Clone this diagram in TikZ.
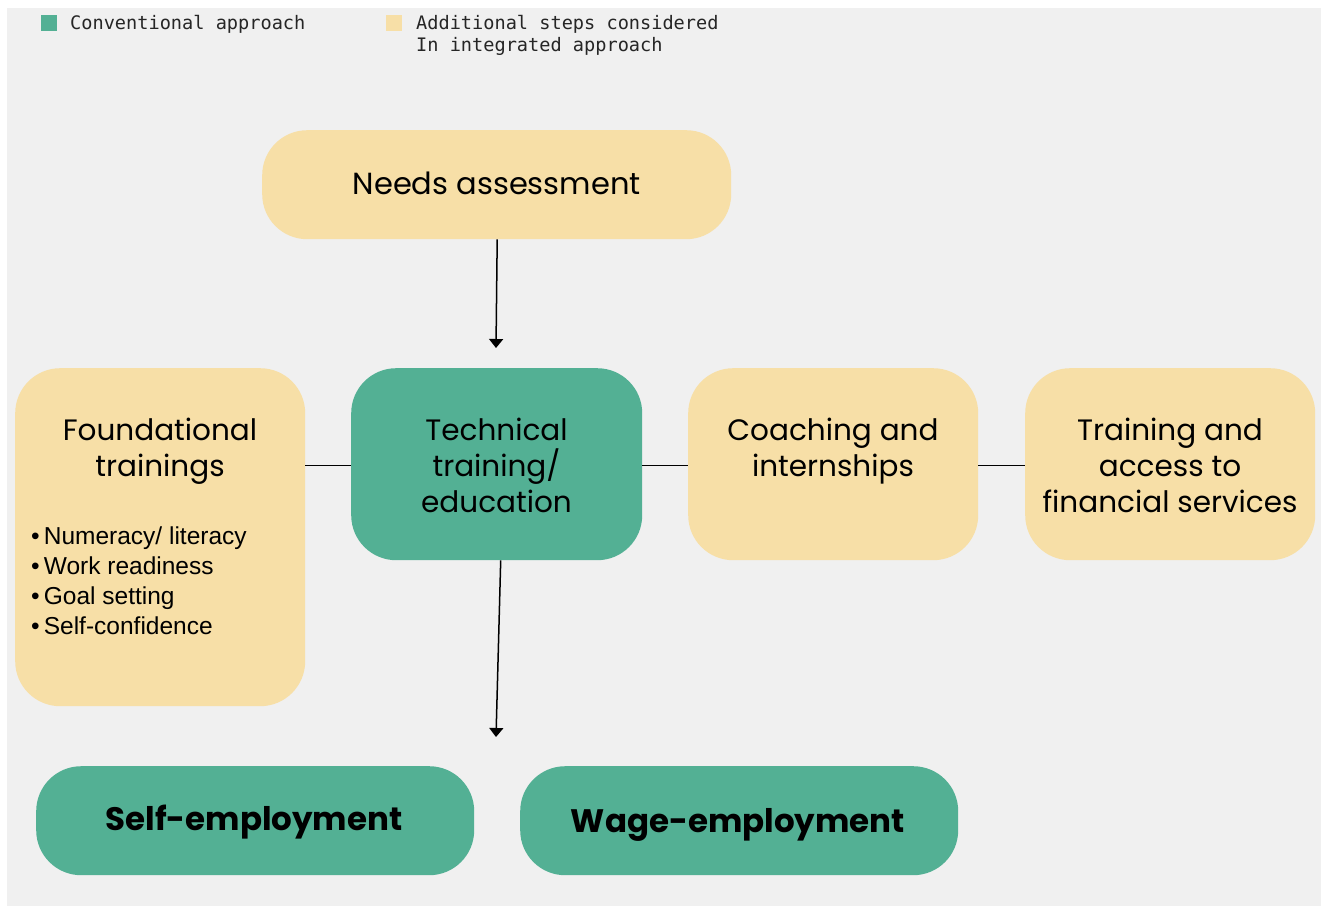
\documentclass[tikz,border=0pt]{standalone}
\usepackage{fontspec}
\setmainfont{Poppins}
\newfontfamily\bulletfont{Liberation Sans}
\newfontfamily\legendfont{DejaVu Sans Mono}
\usetikzlibrary{arrows.meta,calc}
\definecolor{bgc}{HTML}{F0F0F0}
\definecolor{yel}{HTML}{F7DFA7}
\definecolor{grn}{HTML}{53B094}
\begin{document}
\begin{tikzpicture}[x=1pt,y=-1pt,
  box/.style={rounded corners=45pt,inner sep=0pt,anchor=north west},
  ybox/.style={box,fill=yel},
  gbox/.style={box,fill=grn},
  title/.style={font=\fontsize{29.5}{36}\selectfont,align=center,anchor=north,inner sep=0pt,text=black},
  bigbold/.style={font=\fontsize{32.5}{36}\selectfont\bfseries,inner sep=0pt},
  blist/.style={font=\bulletfont\fontsize{24.5}{30}\selectfont,align=left,anchor=north west,inner sep=0pt},
  leg/.style={font=\legendfont\fontsize{18.6}{22}\selectfont,align=left,anchor=north west,inner sep=0pt,text=black!85},
  conn/.style={line width=1pt,black},
  arr/.style={line width=1.5pt,black,-{Triangle[width=14pt,length=9pt]}}
]
\useasboundingbox (0,0) rectangle (1321,906);
\fill[white] (0,0) rectangle (1321,906);
\fill[bgc] (7,8) rectangle (1321,906);

% legend
\node[fill=grn,minimum size=16pt,inner sep=0pt,anchor=north west] (lg1) at (41,15) {};
\node[leg] (lt1) at (70,15) {Conventional approach};
\node[fill=yel,minimum size=16pt,inner sep=0pt,anchor=north west] (lg2) at (386,15) {};
\node[leg] (lt2) at (416,15) {Additional steps considered\\In integrated approach};

% boxes
\node[ybox,minimum width=469pt,minimum height=109pt] (needs) at (262,130) {};
\node[font=\fontsize{30.5}{36}\selectfont,inner sep=0pt] (needst) at ($(needs.center)+(0,-1)$) {Needs assessment};

\node[ybox,minimum width=290pt,minimum height=338pt] (found) at (15,368) {};
\node[title] (foundt) at (160,418) {Foundational\\trainings};
\node[blist] (foundl) at (31,527) {\textbullet\,Numeracy/ literacy\\\textbullet\,Work readiness\\\textbullet\,Goal setting\\\textbullet\,Self-confidence};

\node[gbox,minimum width=291pt,minimum height=192pt] (tech) at (351,368) {};
\node[title] (techt) at (496.5,418) {Technical\\training/\\education};

\node[ybox,minimum width=290pt,minimum height=192pt] (coach) at (688,368) {};
\node[title] (coacht) at (833,418) {Coaching and\\internships};

\node[ybox,minimum width=290pt,minimum height=192pt] (fin) at (1025,368) {};
\node[title] (fint) at (1170,418) {Training and\\access to\\financial services};

\node[gbox,minimum width=438pt,minimum height=109pt] (self) at (36,766) {};
\node[bigbold] (selft) at (254,822) {Self-employment};
\node[gbox,minimum width=438pt,minimum height=109pt] (wage) at (520,766) {};
\node[bigbold] (waget) at (738,825) {Wage-employment};

% connectors
\draw[conn] (found.east |- 0,465) -- (tech.west |- 0,465);
\draw[conn] (tech.east |- 0,465) -- (coach.west |- 0,465);
\draw[conn] (coach.east |- 0,465) -- (fin.west |- 0,465);

\coordinate (a1) at (496,348);
\coordinate (a2) at (496,737);
\draw[arr] ($(needs.south)+(0.5,0)$) -- (a1);
\draw[arr] ($(tech.south)+(4,0)$) -- (a2);
\end{tikzpicture}
\end{document}
